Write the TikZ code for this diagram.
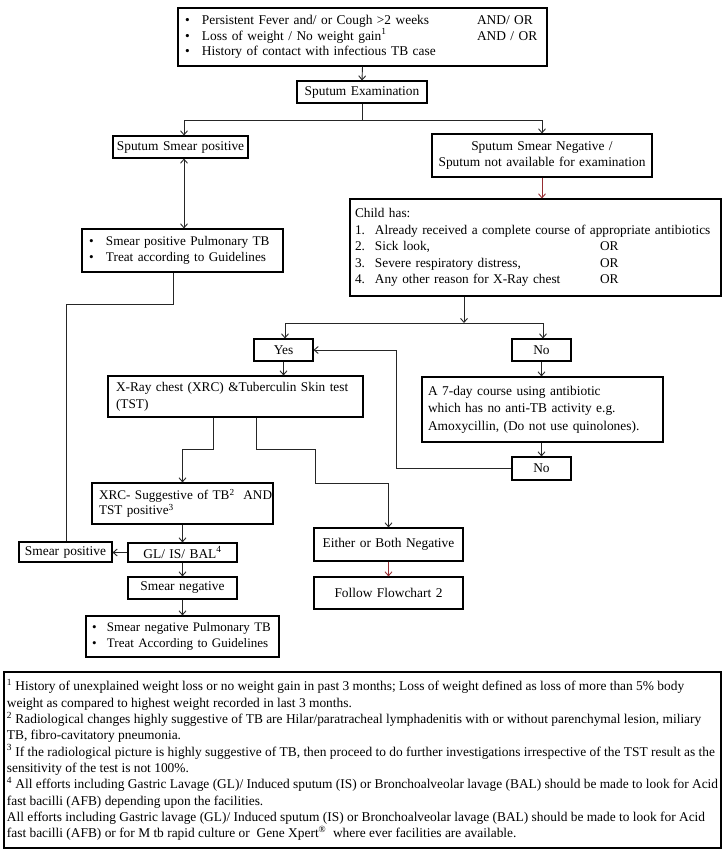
\documentclass[tikz,border=0pt]{standalone}
\usepackage{fontspec}
\setmainfont{Liberation Serif}
\usetikzlibrary{arrows.meta,calc}
\definecolor{arrred}{RGB}{150,45,50}
\newcommand\Ln[1]{\mbox{#1}}
\begin{document}
\begin{tikzpicture}[x=1pt,y=-1pt,
  bx/.style={draw, line width=1.1pt, inner sep=0pt, font=\fontsize{13.4}{15.5}\selectfont},
  ctr/.style={align=center},
  lft/.style={align=left},
  ln/.style={line width=0.9pt, draw=black!85},
  arr/.style={ln, -{Straight Barb[length=4pt,width=7pt]}},
  dbl/.style={ln, {Straight Barb[length=4pt,width=7pt]}-{Straight Barb[length=4pt,width=7pt]}},
]
\useasboundingbox (0,0) rectangle (727,857);

% boxes
\node[bx, lft, minimum width=369pt, minimum height=58pt, inner xsep=7pt, text width=355pt] (top) at (362.5,37)
 {\Ln{\makebox[17pt][l]{\textbullet}\makebox[275pt][l]{Persistent Fever and/ or Cough >2 weeks}AND/ OR}\\
  \Ln{\makebox[17pt][l]{\textbullet}\makebox[275pt][l]{Loss of weight / No weight gain\textsuperscript{1}}AND / OR}\\
  \Ln{\makebox[17pt][l]{\textbullet}History of  contact with infectious TB case}};
\node[bx, ctr, minimum width=130pt, minimum height=22pt, text width=130pt] (exam) at (362,92) {Sputum Examination};
\node[bx, ctr, minimum width=135pt, minimum height=22pt, text width=135pt] (ssp) at (180.5,147) {Sputum Smear positive};
\node[bx, ctr, minimum width=220pt, minimum height=43pt, text width=220pt] (ssn) at (542,155.5)
 {Sputum Smear Negative /\\Sputum not available for examination};
\node[bx, lft, minimum width=371pt, minimum height=97pt, inner xsep=5pt, text width=361pt,
      font=\fontsize{13.3}{16.5}\selectfont] (child) at (535.5,247.5)
 {Child has:\\
  \Ln{\makebox[20pt][l]{1.}Already received a complete course of appropriate antibiotics}\\
  \Ln{\makebox[20pt][l]{2.}\makebox[225pt][l]{Sick look,}OR}\\
  \Ln{\makebox[20pt][l]{3.}\makebox[225pt][l]{Severe respiratory distress,}OR}\\
  \Ln{\makebox[20pt][l]{4.}\makebox[225pt][l]{Any other reason for X-Ray chest}OR}};
\node[bx, lft, minimum width=201pt, minimum height=43pt, inner xsep=7pt, text width=187pt,
      font=\fontsize{13.2}{16}\selectfont] (sptb) at (182.5,250.5)
 {\Ln{\makebox[17pt][l]{\textbullet}Smear positive Pulmonary TB}\\
  \Ln{\makebox[17pt][l]{\textbullet}Treat according to Guidelines}};
\node[bx, ctr, minimum width=59pt, minimum height=22pt, text width=59pt] (yes) at (283.5,350) {Yes};
\node[bx, ctr, minimum width=59pt, minimum height=22pt, text width=59pt] (no1) at (541.5,350) {No};
\node[bx, lft, minimum width=255pt, minimum height=41pt, inner xsep=8pt, text width=239pt,
      font=\fontsize{13.3}{17}\selectfont] (xrc) at (235.5,396.5)
 {\Ln{X-Ray chest (XRC) \&Tuberculin Skin test}\\(TST)};
\node[bx, lft, minimum width=241pt, minimum height=65pt, inner xsep=6pt, text width=229pt,
      font=\fontsize{13.4}{17.5}\selectfont] (seven) at (542.5,409.5)
 {\Ln{A 7-day course using antibiotic}\\\Ln{which has no anti-TB activity e.g.}\\\Ln{Amoxycillin, (Do not use quinolones).}};
\node[bx, ctr, minimum width=59pt, minimum height=23pt, text width=59pt] (no2) at (541.5,468.5) {No};
\node[bx, lft, minimum width=181pt, minimum height=41pt, inner xsep=7pt, text width=167pt,
      font=\fontsize{13.2}{15}\selectfont] (xrcs) at (182.5,503.5)
 {\Ln{XRC- Suggestive of TB\textsuperscript{2}~~AND}\\\Ln{TST positive\textsuperscript{3}}};
\node[bx, ctr, minimum width=109pt, minimum height=19pt, text width=109pt] (gl) at (182.5,552.5) {GL/ IS/ BAL\textsuperscript{4}};
\node[bx, ctr, minimum width=93pt, minimum height=20pt, text width=93pt] (smp) at (65.5,552) {Smear positive};
\node[bx, ctr, minimum width=109pt, minimum height=22pt, text width=109pt] (smn) at (182.5,588) {Smear negative};
\node[bx, lft, minimum width=193pt, minimum height=41pt, inner xsep=6pt, text width=181pt,
      font=\fontsize{13.0}{15.5}\selectfont] (snptb) at (182.5,636.5)
 {\Ln{\makebox[15pt][l]{\textbullet}Smear negative Pulmonary TB}\\
  \Ln{\makebox[15pt][l]{\textbullet}Treat According to Guidelines}};
\node[bx, ctr, minimum width=149pt, minimum height=33pt, text width=149pt] (either) at (388.5,544.5) {Either or Both Negative};
\node[bx, ctr, minimum width=149pt, minimum height=32pt, text width=149pt] (follow) at (388.5,593) {Follow Flowchart 2};
\node[bx, lft, minimum width=717pt, minimum height=176pt,
      font=\fontsize{13.4}{16.3}\selectfont] (foot) at (362.5,760)
 {\textsuperscript{1} History of unexplained weight loss or no weight gain in past 3 months; Loss of weight defined as loss of more than 5\% body\\
  weight as compared to highest weight recorded in last 3 months.\\
  \textsuperscript{2} Radiological changes highly suggestive of TB are Hilar/paratracheal lymphadenitis with or without parenchymal lesion, miliary\\
  TB, fibro-cavitatory pneumonia.\\
  \textsuperscript{3} If the radiological picture is highly suggestive of TB, then proceed to do further investigations irrespective of the TST result as the\\
  sensitivity of the test is not 100\%.\\
  \textsuperscript{4} All efforts including Gastric Lavage (GL)/ Induced sputum (IS) or Bronchoalveolar lavage (BAL) should be made to look for Acid\\
  fast bacilli (AFB) depending upon the facilities.\\
  All efforts including Gastric lavage (GL)/ Induced sputum (IS) or Bronchoalveolar lavage (BAL) should be made to look for Acid\\
  fast bacilli (AFB) or for M tb rapid culture or~~Gene Xpert\textsuperscript{\textregistered}~ where ever facilities are available.};

% connector coordinates
\coordinate (h1) at (362,120);
\coordinate (c1) at (173,304);
\coordinate (c2) at (66,304);
\coordinate (h2) at (464,323);
\coordinate (c3) at (396,468.5);
\coordinate (c4) at (213,449);
\coordinate (c5) at (256,449);
\coordinate (c6) at (315,449);
\coordinate (c7) at (315,483);

% connectors
\draw[arr] (top.south) -- (exam.north);
\draw[ln] (exam.south) -- (h1);
\draw[arr] (h1) -| ([xshift=3.5pt]ssp.north);
\draw[arr] (h1) -| (ssn.north);
\draw[dbl] ([xshift=3.5pt]ssp.south) -- ([xshift=3.5pt]ssp.south |- sptb.north);
\draw[ln] (c1 |- sptb.south) -- (c1) -- (c2) -- (c2 |- smp.north);
\draw[arr, draw=arrred] (ssn.south) -- (ssn.south |- child.north);
\draw[arr] (h2 |- child.south) -- (h2);
\draw[arr] (h2) -| ([xshift=1.5pt]yes.north);
\draw[arr] (h2) -| ([xshift=1.5pt]no1.north);
\draw[arr] (no1.south) -- (no1.south |- seven.north);
\draw[arr] (no2.north |- seven.south) -- (no2.north);
\draw[arr] (no2.west) -- (c3) |- (yes.east);
\draw[arr] (yes.south) -- (yes.south |- xrc.north);
\draw[arr] (c4 |- xrc.south) -- (c4) -| (xrcs.north);
\draw[arr] (c5 |- xrc.south) -- (c5) -- (c6) -- (c7) -| (either.north);
\draw[arr] (xrcs.south) -- (gl.north);
\draw[arr] (gl.west) -- (gl.west -| smp.east);
\draw[arr] (gl.south) -- (smn.north);
\draw[arr] (smn.south) -- (snptb.north);
\draw[arr, draw=arrred] (either.south) -- (follow.north);
\end{tikzpicture}
\end{document}
